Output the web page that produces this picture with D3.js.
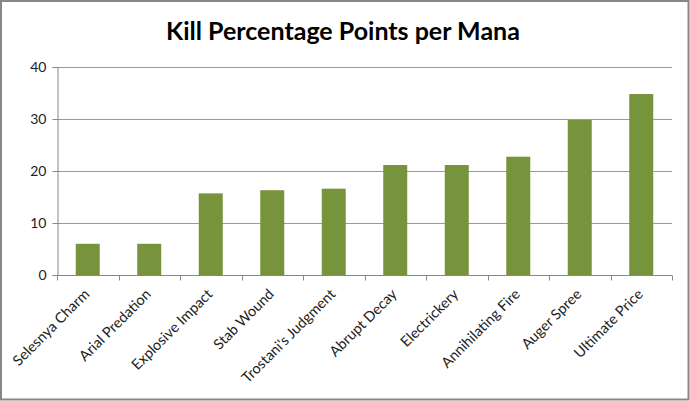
<!DOCTYPE html>
<html>
<head>
<meta charset="utf-8">
<script src="https://cdn.jsdelivr.net/npm/d3@7"></script>
<style>
  html, body { margin: 0; padding: 0; background: #fff; }
  svg { display: block; }
</style>
</head>
<body>
<script>
const categories = ["Selesnya Charm", "Arial Predation", "Explosive Impact", "Stab Wound", "Trostani's Judgment", "Abrupt Decay", "Electrickery", "Annihilating Fire", "Auger Spree", "Ultimate Price"];
const values = [6.0, 6.0, 15.7, 16.3, 16.6, 21.15, 21.15, 22.75, 29.8, 34.8];
const yTicks = [0, 10, 20, 30, 40];
const title = "Kill Percentage Points per Mana";

const W = 690, H = 401;
const margin = { left: 57, right: 18, top: 67, bottom: 126 };

const svg = d3.select("body").append("svg").attr("width", W).attr("height", H);

svg.append("rect").attr("x", 1).attr("y", 1).attr("width", W - 2.5).attr("height", H - 2.5)
  .attr("fill", "#fff").attr("stroke", "#878787").attr("stroke-width", 2);

const x = d3.scaleBand().domain(categories).range([margin.left, W - margin.right]).paddingInner(0.61).paddingOuter(0.305);
const y = d3.scaleLinear().domain([0, 40]).range([H - margin.bottom, margin.top]);

// gridlines
svg.append("g").selectAll("line").data(yTicks.filter(d => d > 0)).join("line")
  .attr("x1", margin.left).attr("x2", W - margin.right)
  .attr("y1", d => Math.round(y(d)) + 0.5).attr("y2", d => Math.round(y(d)) + 0.5)
  .attr("stroke", "#9a9a9a").attr("stroke-width", 1);

// bars
svg.append("g").selectAll("rect").data(categories).join("rect")
  .attr("x", d => x(d)).attr("width", x.bandwidth())
  .attr("y", (d, i) => y(values[i])).attr("height", (d, i) => y(0) - y(values[i]))
  .attr("fill", "#77933C");

// y axis
const yAxis = d3.axisLeft(y).tickValues(yTicks).tickSize(5).tickPadding(6).tickFormat(d3.format("d"));
const gy = svg.append("g").attr("transform", `translate(${margin.left + 0.5},0)`).call(yAxis);
gy.select(".domain").attr("stroke", "#878787");
gy.selectAll(".tick line").attr("stroke", "#878787");
gy.selectAll(".tick text").attr("font-family", "Lato, 'Open Sans', sans-serif").attr("font-size", 14).attr("fill", "#222");

// x axis
const gx = svg.append("g").attr("transform", `translate(0,${Math.round(y(0)) + 0.5})`);
gx.append("line").attr("x1", margin.left).attr("x2", W - margin.right).attr("stroke", "#878787");
const step = x.step();
const bounds = d3.range(categories.length + 1).map(i => margin.left + i * step);
gx.selectAll("line.tk").data(bounds).join("line").attr("class", "tk")
  .attr("x1", d => Math.round(d) + 0.5).attr("x2", d => Math.round(d) + 0.5)
  .attr("y1", 0).attr("y2", 5).attr("stroke", "#878787");
gx.selectAll("text").data(categories).join("text")
  .attr("transform", d => `translate(${x(d) + x.bandwidth() / 2 - 1},${16}) rotate(-45)`)
  .attr("text-anchor", "end").attr("dy", "0.35em")
  .attr("font-family", "Lato, 'Open Sans', sans-serif").attr("font-size", 14.5).attr("fill", "#222")
  .text(d => d);

// title
svg.append("text").attr("x", 343).attr("y", 40).attr("text-anchor", "middle")
  .attr("font-family", "Lato, 'Open Sans', sans-serif").attr("font-weight", "bold").attr("font-size", 25)
  .attr("fill", "#000").text(title);
</script>
</body>
</html>
